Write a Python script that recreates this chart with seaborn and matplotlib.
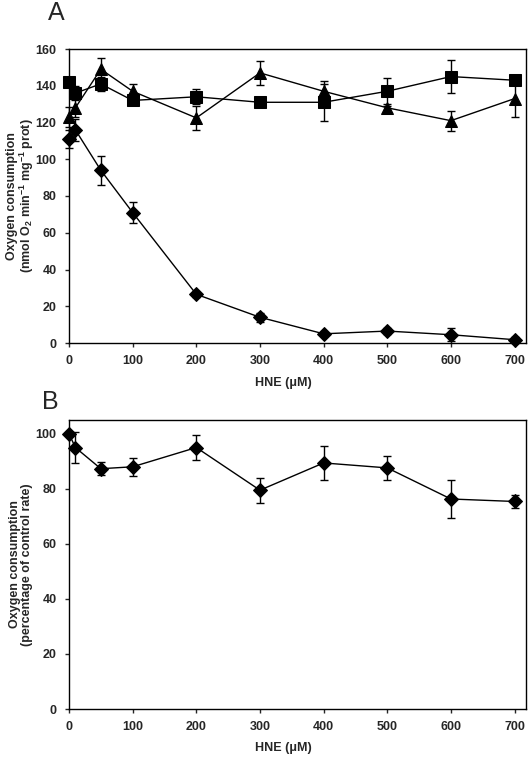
import numpy as np
import pandas as pd
import matplotlib
matplotlib.use("Agg")
import matplotlib.pyplot as plt
import seaborn as sns

hne = [0, 10, 50, 100, 200, 300, 400, 500, 600, 700]

# panel A: absolute rates (nmol O2 / min / mg prot)
diamond_a = [111, 116, 94, 71, 26.5, 14, 5, 6.5, 4.5, 1.8]
diamond_a_err = [5, 6, 8, 5.7, 1.5, 2.5, 1, 1.5, 3.5, 1.5]
square_a = [142, 136, 141, 132, 134, 131, 131, 137, 145, 143]
square_a_err = [1, 4, 4, 2, 4, 1, 10, 7, 9, 1]
triangle_a = [123, 128, 149, 137, 122.5, 147, 137, 128, 121, 133]
triangle_a_err = [5.5, 5, 6, 4, 6.5, 6.5, 5.5, 1, 5.5, 10]

# panel B: percentage of control rate
diamond_b = [100, 95, 87.3, 88, 95, 79.5, 89.4, 87.6, 76.3, 75.4]
diamond_b_err = [0.5, 5.5, 2.4, 3.3, 4.6, 4.6, 6.2, 4.4, 7, 2.4]

sns.set_style("ticks")
plt.rcParams["font.family"] = ["Liberation Sans", "DejaVu Sans"]
plt.rcParams["font.weight"] = "bold"
plt.rcParams["mathtext.fontset"] = "custom"
plt.rcParams["mathtext.rm"] = "Liberation Sans:bold"
plt.rcParams["mathtext.bf"] = "Liberation Sans:bold"
plt.rcParams["mathtext.default"] = "bf"

df_a = pd.concat([
    pd.DataFrame({"HNE": hne, "rate": diamond_a, "err": diamond_a_err, "set": "diamond"}),
    pd.DataFrame({"HNE": hne, "rate": square_a, "err": square_a_err, "set": "square"}),
    pd.DataFrame({"HNE": hne, "rate": triangle_a, "err": triangle_a_err, "set": "triangle"}),
])
df_b = pd.DataFrame({"HNE": hne, "rate": diamond_b, "err": diamond_b_err, "set": "diamond"})

fig = plt.figure(figsize=(5.28, 7.57), dpi=100)
ax_a = fig.add_axes([69 / 528, 1 - 343 / 757, 457 / 528, 294 / 757])
ax_b = fig.add_axes([69 / 528, 1 - 709 / 757, 457 / 528, 289 / 757])

markers = {"diamond": "D", "square": "s", "triangle": "^"}
sizes = {"diamond": 7, "square": 8, "triangle": 8.5}


def draw(ax, df):
    for name, sub in df.groupby("set"):
        _, caps, bars = ax.errorbar(sub["HNE"], sub["rate"], yerr=sub["err"], fmt="none",
                                    ecolor="black", elinewidth=1, capsize=3, capthick=1, zorder=2)
        for c in caps:
            c.set_clip_on(False)
        for b in bars:
            b.set_clip_on(False)
    sns.lineplot(data=df, x="HNE", y="rate", hue="set", style="set",
                 markers=markers, dashes=False, palette=["black"] * df["set"].nunique(),
                 linewidth=1, markersize=8, markeredgecolor="black",
                 legend=False, ax=ax, zorder=3)
    names = sorted(df["set"].unique())
    for l in ax.get_lines():
        l.set_clip_on(False)
        for n in names:
            if l.get_marker() == markers[n]:
                l.set_markersize(sizes[n])
                l.set_markerfacecolor("black")
    ax.set_xlim(0, 718)
    ax.set_xticks(range(0, 701, 100))
    for side in ["top", "right", "left", "bottom"]:
        ax.spines[side].set_visible(True)
        ax.spines[side].set_color("black")
        ax.spines[side].set_linewidth(1)
    ax.tick_params(labelsize=9, length=3, width=1, direction="out", pad=6)
    for lab in ax.get_xticklabels() + ax.get_yticklabels():
        lab.set_fontweight("bold")
    ax.set_xlabel("HNE (\u03bcM)", fontsize=9, fontweight="bold")
    ax.xaxis.set_label_coords(0.468, -0.115)


draw(ax_a, df_a)
ax_a.set_ylim(0, 160)
ax_a.set_yticks(range(0, 161, 20))
ax_a.set_ylabel("Oxygen consumption\n(nmol O$_2$ min$^{-1}$ mg$^{-1}$ prot)",
                fontsize=9, fontweight="bold", linespacing=1.0)
ax_a.yaxis.set_label_coords(-0.072, 0.5)

draw(ax_b, df_b)
ax_b.set_ylim(0, 105)
ax_b.set_yticks(range(0, 101, 20))
ax_b.set_ylabel("Oxygen consumption\n(percentage of control rate)",
                fontsize=9, fontweight="bold", linespacing=1.0)
ax_b.yaxis.set_label_coords(-0.078, 0.5)

fig.text(48 / 528, 1 - 13 / 757, "A", fontsize=18, fontweight="normal", ha="left", va="center")
fig.text(42 / 528, 1 - 402 / 757, "B", fontsize=18, fontweight="normal", ha="left", va="center")

fig.savefig("out.png", dpi=100)
